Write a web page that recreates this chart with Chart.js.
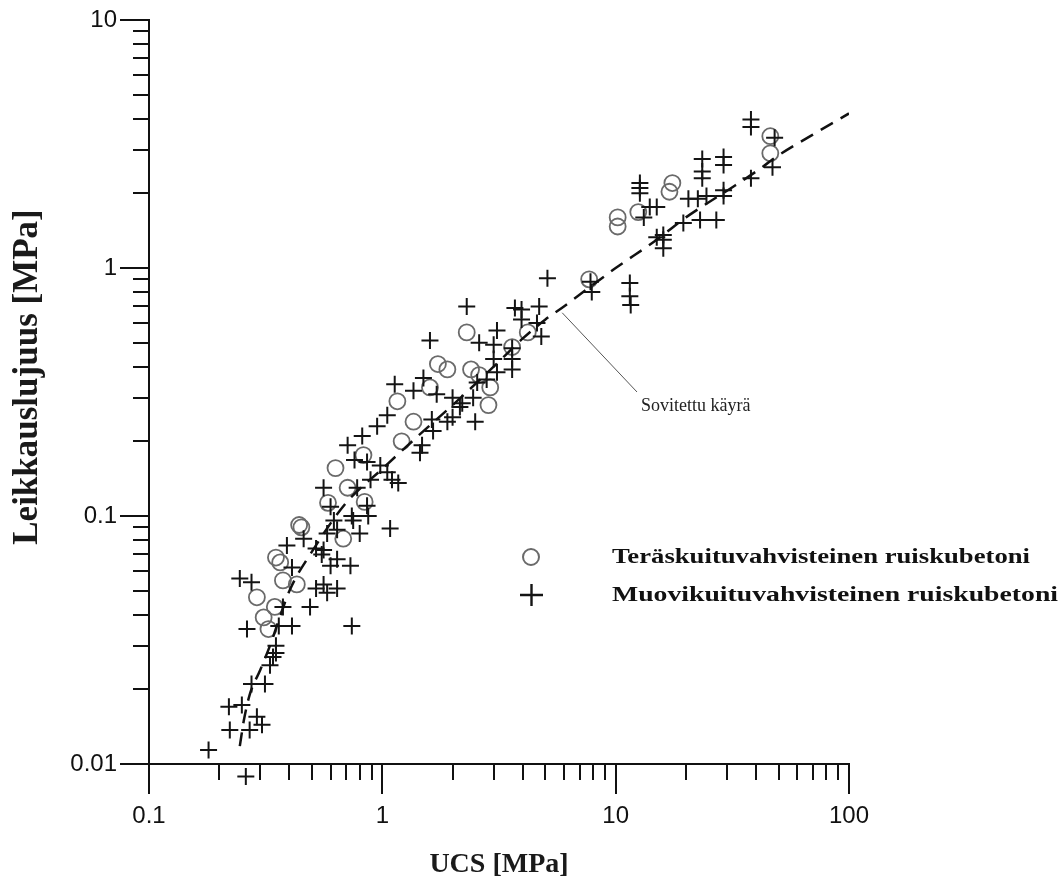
<!DOCTYPE html>
<html>
<head>
<meta charset="utf-8">
<script src="https://cdn.jsdelivr.net/npm/chart.js@4.4.1/dist/chart.umd.min.js"></script>
<style>
  html, body { margin: 0; padding: 0; background: #fff; }
  #wrap { width: 1064px; height: 890px; }
</style>
</head>
<body>
<div id="wrap"><canvas id="chart" width="1064" height="890"></canvas></div>
<script>
// Steel fibre reinforced shotcrete (circles)
var steelX = [0.45, 0.35, 0.365, 0.375, 0.43, 0.29, 0.346, 0.31, 0.325, 0.68,
              2.3, 1.73, 1.9, 2.4, 1.16, 1.36, 1.21, 0.83, 0.63, 0.71,
              0.585, 0.84, 0.44, 1.6, 3.6, 2.6, 2.9, 2.85, 7.7, 46,
              46, 17.5, 17, 12.5, 10.2, 10.2, 4.2];
var steelY = [0.09, 0.068, 0.065, 0.055, 0.053, 0.047, 0.043, 0.039, 0.035, 0.081,
              0.55, 0.41, 0.39, 0.39, 0.29, 0.24, 0.2, 0.176, 0.156, 0.13,
              0.113, 0.114, 0.092, 0.33, 0.48, 0.37, 0.33, 0.28, 0.9, 3.4,
              2.9, 2.2, 2.03, 1.68, 1.6, 1.47, 0.55];

// Plastic fibre reinforced shotcrete (crosses)
var plasticX = [0.18, 0.26, 0.22, 0.25, 0.29, 0.305, 0.222, 0.27, 0.275, 0.314,
                0.33, 0.34, 0.35, 0.35, 0.263, 0.36, 0.41, 0.74, 0.375, 0.49,
                0.245, 0.275, 0.41, 0.39, 0.52, 0.56, 0.55, 0.64, 0.73, 0.6,
                0.56, 0.64, 0.52, 0.58, 0.46, 0.58, 0.64, 0.62, 0.75, 0.8,
                0.86, 1.08,
                2.3, 1.6, 1.13, 1.5, 1.36, 1.71, 2.0, 2.15, 1.63, 2.0,
                2.5, 1.65, 1.48, 1.45, 1.05, 0.95, 0.82, 0.71, 0.76, 0.86,
                0.98, 1.05, 1.1, 1.17, 0.56, 0.6, 0.78, 0.89, 0.74, 0.87,
                5.1, 3.7, 3.95, 4.7, 3.95, 4.6, 4.8, 3.1, 2.6, 3.0,
                3.6, 3.6, 3.0, 3.1, 3.6, 2.8, 2.55, 2.45, 2.2, 1.9,
                38, 38, 48, 47, 38, 23.5, 23.5, 23.5, 29, 29,
                29, 29, 27, 23, 19.5, 24.5, 22.5, 20.5, 12.7, 12.7,
                12.7, 14, 15, 13.2, 16, 16, 16, 15, 7.8, 7.9,
                11.5, 11.5, 11.6];
var plasticY = [0.0114, 0.0089, 0.017, 0.0173, 0.0155, 0.0144, 0.0137, 0.0137, 0.021, 0.021,
                0.025, 0.027, 0.028, 0.03, 0.035, 0.036, 0.036, 0.036, 0.043, 0.043,
                0.056, 0.054, 0.062, 0.076, 0.074, 0.073, 0.07, 0.067, 0.063, 0.063,
                0.053, 0.051, 0.051, 0.049, 0.081, 0.085, 0.088, 0.096, 0.096, 0.085,
                0.11, 0.089,
                0.7, 0.51, 0.34, 0.36, 0.32, 0.31, 0.3, 0.275, 0.245, 0.25,
                0.24, 0.22, 0.193, 0.18, 0.255, 0.23, 0.21, 0.193, 0.168, 0.165,
                0.16, 0.15, 0.14, 0.136, 0.13, 0.109, 0.13, 0.14, 0.1, 0.1,
                0.91, 0.69, 0.68, 0.7, 0.62, 0.6, 0.53, 0.56, 0.5, 0.49,
                0.475, 0.43, 0.43, 0.38, 0.39, 0.355, 0.345, 0.3, 0.285, 0.24,
                3.7, 3.97, 3.35, 2.55, 2.3, 2.75, 2.45, 2.3, 2.8, 2.6,
                2.06, 1.95, 1.56, 1.56, 1.52, 1.95, 1.9, 1.9, 2.1, 2.0,
                2.2, 1.76, 1.76, 1.6, 1.36, 1.3, 1.2, 1.33, 0.88, 0.8,
                0.87, 0.77, 0.71];

// Fitted curve
var fitX = [0.245, 0.255, 0.27, 0.3, 0.33, 0.36, 0.4, 0.5, 0.7, 1,
            1.5, 2, 2.5, 3, 4, 5, 6, 7, 9, 10,
            15, 20, 30, 40, 50, 70, 100];
var fitY = [0.0118, 0.015, 0.019, 0.024, 0.03, 0.038, 0.05, 0.072, 0.113, 0.155,
            0.22, 0.28, 0.34, 0.4, 0.52, 0.62, 0.7, 0.78, 0.93, 1.0,
            1.3, 1.6, 2.05, 2.45, 2.85, 3.45, 4.2];

var xTicks = [0.1, 1, 10, 100];
var yTicks = [0.01, 0.1, 1, 10];
var minorSteps = [2, 3, 4, 5, 6, 7, 8, 9];

var steelLabel = 'Teräskuituvahvisteinen ruiskubetoni';
var plasticLabel = 'Muovikuituvahvisteinen ruiskubetoni';
var fitLabel = 'Sovitettu käyrä';
var xTitle = 'UCS [MPa]';
var yTitle = 'Leikkauslujuus [MPa]';

function toPoints(xs, ys) {
    var pts = [];
    for (var i = 0; i < xs.length; i++) {
        pts.push({x: xs[i], y: ys[i]});
    }
    return pts;
}

var circleColor = '#6a6a6a';
var crossColor = '#141414';

// tick marks: long for decades, short for 2..9
var tickMarks = {
    id: 'tickMarks',
    afterDraw: function(chart) {
        var ctx = chart.ctx;
        var xs = chart.scales.x, ys = chart.scales.y;
        var area = chart.chartArea;
        ctx.save();
        ctx.strokeStyle = '#111';
        ctx.lineWidth = 2;
        ctx.beginPath();
        for (var i = 0; i < xTicks.length; i++) {
            var px = Math.round(xs.getPixelForValue(xTicks[i]));
            ctx.moveTo(px, area.bottom);
            ctx.lineTo(px, area.bottom + 30);
            if (i < xTicks.length - 1) {
                for (var j = 0; j < minorSteps.length; j++) {
                    var mx = Math.round(xs.getPixelForValue(xTicks[i] * minorSteps[j]));
                    ctx.moveTo(mx, area.bottom);
                    ctx.lineTo(mx, area.bottom + 16);
                }
            }
        }
        for (var k = 0; k < yTicks.length; k++) {
            var py = Math.round(ys.getPixelForValue(yTicks[k]));
            ctx.moveTo(area.left, py);
            ctx.lineTo(area.left - 29, py);
            if (k < yTicks.length - 1) {
                for (var m = 0; m < minorSteps.length; m++) {
                    var my = Math.round(ys.getPixelForValue(yTicks[k] * minorSteps[m]));
                    ctx.moveTo(area.left, my);
                    ctx.lineTo(area.left - 16, my);
                }
            }
        }
        ctx.stroke();
        ctx.restore();
    }
};

// y title, legend box inside the plot and the label for the fitted curve
var extras = {
    id: 'extras',
    afterDraw: function(chart) {
        var ctx = chart.ctx;
        var xs = chart.scales.x, ys = chart.scales.y;
        ctx.save();
        // y axis title, a bit above the middle like the original
        ctx.save();
        ctx.translate(28, 377);
        ctx.rotate(-Math.PI / 2);
        ctx.font = 'bold 35px "Liberation Serif"';
        ctx.fillStyle = '#1a1a1a';
        ctx.textAlign = 'center';
        ctx.textBaseline = 'middle';
        ctx.fillText(yTitle, 0, 0);
        ctx.restore();
        // legend markers
        ctx.strokeStyle = circleColor;
        ctx.lineWidth = 2;
        ctx.beginPath();
        ctx.arc(531, 557, 8, 0, Math.PI * 2);
        ctx.stroke();
        ctx.strokeStyle = crossColor;
        ctx.lineWidth = 2.4;
        ctx.beginPath();
        ctx.moveTo(520, 595); ctx.lineTo(543, 595);
        ctx.moveTo(531.5, 584); ctx.lineTo(531.5, 606);
        ctx.stroke();
        // legend text
        ctx.fillStyle = '#111';
        ctx.font = 'bold 21px "Liberation Serif"';
        ctx.textBaseline = 'middle';
        ctx.textAlign = 'left';
        ctx.save();
        ctx.translate(612, 558);
        ctx.scale(418 / ctx.measureText(steelLabel).width, 1);
        ctx.fillText(steelLabel, 0, 0);
        ctx.restore();
        ctx.save();
        ctx.translate(612, 596);
        ctx.scale(446 / ctx.measureText(plasticLabel).width, 1);
        ctx.fillText(plasticLabel, 0, 0);
        ctx.restore();
        // leader line to the fitted curve
        ctx.strokeStyle = '#555';
        ctx.lineWidth = 1;
        ctx.beginPath();
        ctx.moveTo(xs.getPixelForValue(5.9), ys.getPixelForValue(0.66));
        ctx.lineTo(637, 392);
        ctx.stroke();
        ctx.font = '18px "Liberation Serif"';
        ctx.fillStyle = '#222';
        ctx.fillText(fitLabel, 641, 406);
        ctx.restore();
    }
};

var titleFont = {family: '"Liberation Serif", "Times New Roman", serif', weight: 'bold'};

new Chart(document.getElementById('chart'), {
    type: 'scatter',
    data: {
        datasets: [{
            label: fitLabel,
            type: 'line',
            data: toPoints(fitX, fitY),
            showLine: true,
            borderColor: '#111',
            borderWidth: 2.5,
            borderDash: [14, 9],
            pointRadius: 0,
            cubicInterpolationMode: 'monotone',
            fill: false
        }, {
            label: plasticLabel,
            data: toPoints(plasticX, plasticY),
            pointStyle: 'cross',
            pointRadius: 8.5,
            // larger hover radius only widens the in-area test so the point under the axis is drawn
            pointHoverRadius: 14,
            borderColor: crossColor,
            borderWidth: 2,
            clip: false
        }, {
            label: steelLabel,
            data: toPoints(steelX, steelY),
            pointStyle: 'circle',
            pointRadius: 8,
            pointHoverRadius: 8,
            backgroundColor: 'rgba(0,0,0,0)',
            borderColor: circleColor,
            borderWidth: 1.8
        }]
    },
    options: {
        responsive: false,
        animation: false,
        events: [],
        layout: {padding: {left: 0, top: 20, right: 215, bottom: 0}},
        plugins: {
            legend: {display: false},
            tooltip: {enabled: false}
        },
        scales: {
            x: {
                type: 'logarithmic',
                position: 'bottom',
                min: 0.1,
                max: 100,
                afterBuildTicks: function(scale) {
                    scale.ticks = xTicks.map(function(v) { return {value: v}; });
                },
                afterFit: function(scale) {
                    scale.height = 126;
                    scale.paddingLeft = 0;
                    scale.paddingRight = 0;
                },
                border: {display: true, color: '#111', width: 2},
                grid: {display: false, drawTicks: true, tickLength: 0},
                ticks: {
                    autoSkip: false,
                    maxRotation: 0,
                    padding: 38,
                    color: '#111',
                    font: {family: '"Liberation Sans", Arial, sans-serif', size: 24},
                    callback: function(v) { return String(v); }
                },
                title: {
                    display: true,
                    text: xTitle,
                    color: '#1a1a1a',
                    font: Object.assign({size: 28}, titleFont),
                    padding: {top: 0, bottom: 8}
                }
            },
            y: {
                type: 'logarithmic',
                position: 'left',
                min: 0.01,
                max: 10,
                afterBuildTicks: function(scale) {
                    scale.ticks = yTicks.map(function(v) { return {value: v}; });
                },
                afterFit: function(scale) {
                    scale.width = 149;
                    scale.paddingTop = 0;
                    scale.paddingBottom = 0;
                },
                border: {display: true, color: '#111', width: 2},
                grid: {display: false, drawTicks: true, tickLength: 0},
                ticks: {
                    autoSkip: false,
                    padding: 32,
                    color: '#111',
                    font: {family: '"Liberation Sans", Arial, sans-serif', size: 24},
                    callback: function(v) { return String(v); }
                },
                title: {display: false, text: yTitle}
            }
        }
    },
    plugins: [tickMarks, extras]
});
</script>
</body>
</html>
